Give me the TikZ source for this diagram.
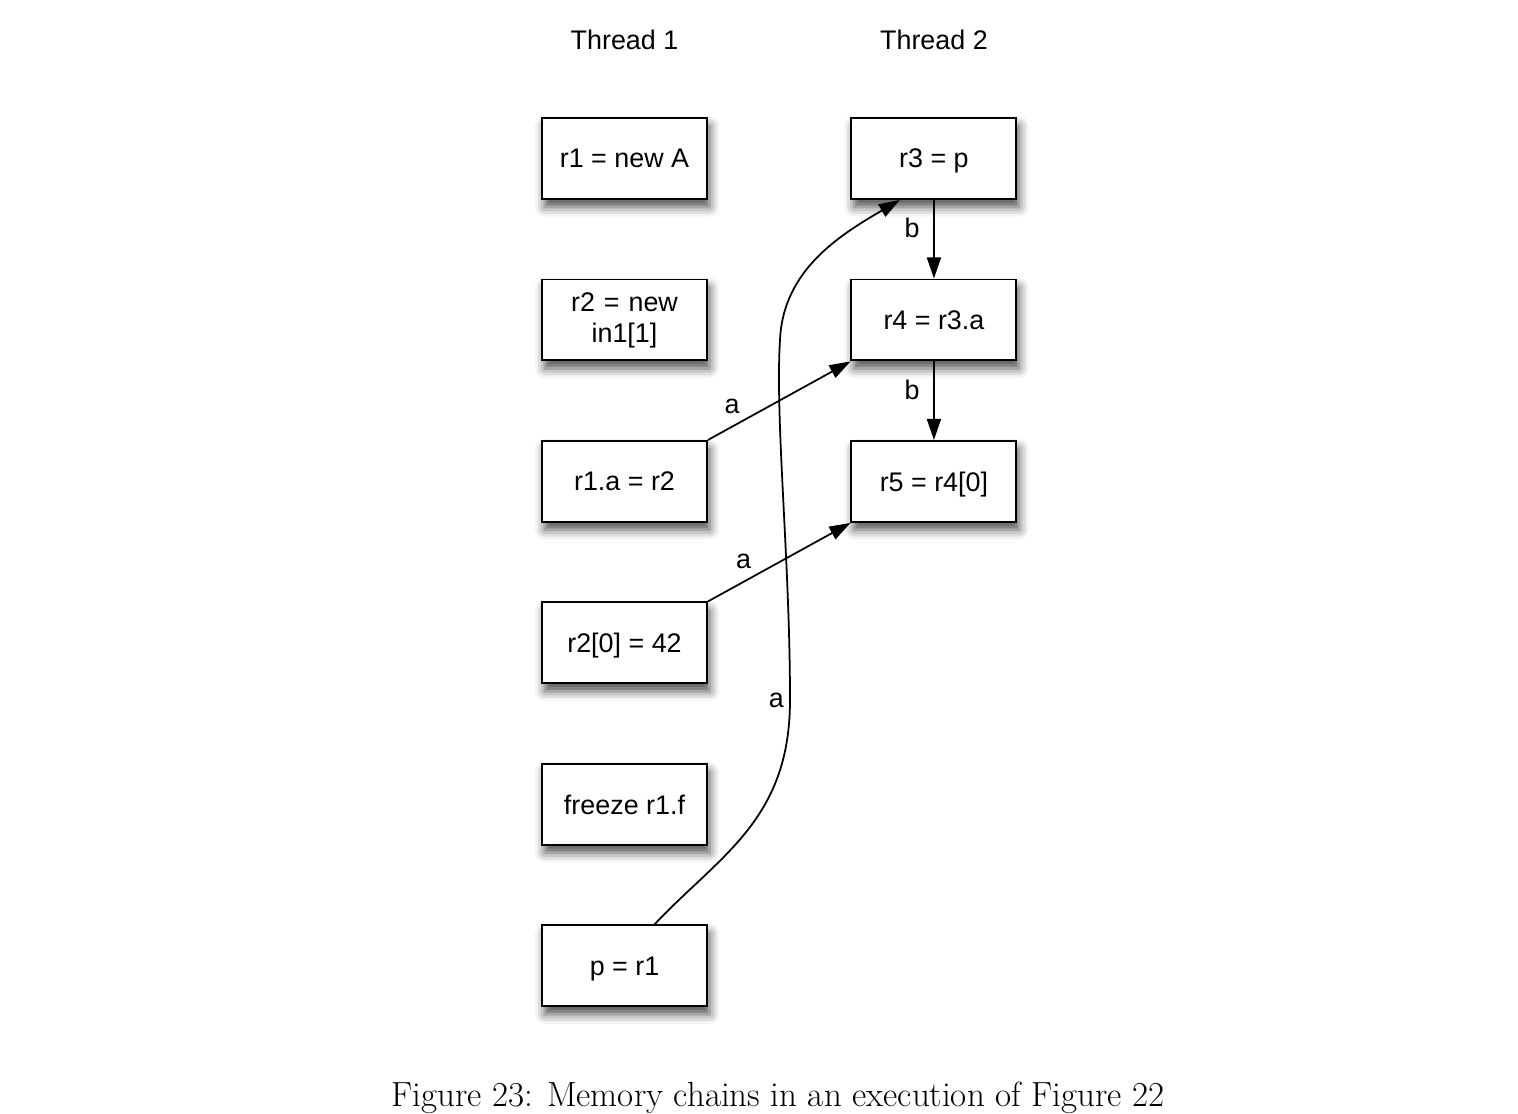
\documentclass[tikz,border=0pt]{standalone}
\usepackage{fontspec}
\setsansfont{Liberation Sans}
\usepackage{tikz}
\usetikzlibrary{shapes,arrows,arrows.meta,positioning,matrix,shadows.blur}
\newcommand{\chainfont}{\sffamily\fontsize{15.3}{17.6}\selectfont}
\tikzset{
  stmt/.style={draw, line width=1.1pt, fill=white,
    minimum width=3.3cm, minimum height=1.62cm, align=center,
    text depth=0pt, font=\chainfont,
    blur shadow={shadow xshift=1.5pt, shadow yshift=-4.5pt,
      shadow blur radius=5.5pt, shadow opacity=70}},
  chain/.style={line width=1pt, -{Triangle[length=12pt,width=8pt]}},
  tag/.style={font=\chainfont, inner sep=1pt},
  head/.style={font=\chainfont},
}

\begin{document}
\begin{tikzpicture}[x=0.02cm, y=-0.02cm]
\useasboundingbox (0,0) rectangle (1518,1114);
\matrix (m) [
  matrix of nodes,
  nodes={stmt, anchor=center},
  column sep={6.19cm,between origins},
  row sep={3.23cm,between origins},
  matrix anchor=m-1-1.center,
] at (624.5,158.5)
{
r1 = new A& r3 = p\\
|[text width=70pt, text depth=]| r2 = new in1[1]& r4 = r3.a\\
r1.a = r2& r5 = r4[0]\\
r2[0] = 42& \\
freeze r1.f& \\
p = r1& \\
};
\node[head, above=1.23cm of m-1-1] (th1) {Thread 1};
\node[head, above=1.23cm of m-1-2] (th2) {Thread 2};
% chains
\draw[chain] (m-1-2) -- node[tag, pos=0.36, left=6.7pt] (b1) {b} (m-2-2);
\draw[chain] (m-2-2) -- node[tag, pos=0.36, left=6.7pt] (b2) {b} (m-3-2);
\draw[chain] (m-3-1.north east) -- node[tag, pos=0.17, above=6pt] (a1) {a} (m-2-2.south west);
\draw[chain] (m-4-1.north east) -- node[tag, pos=0.25, above=6pt] (a2) {a} (m-3-2.south west);
\draw[chain] ([xshift=0.6cm]m-6-1.north)
  .. controls (720,855) and (790,820) .. (790,700) node[tag, left=2pt] (a3) {a}
  .. controls (790,560) and (775,420) .. (780,340)
  .. controls (783,270) and (840,235) .. ([xshift=-0.68cm]m-1-2.south);
\node[font=\fontsize{19.9}{24}\selectfont] (cap) at (778,1098)
  {Figure 23: Memory chains in an execution of Figure 22};
\end{tikzpicture}
\end{document}
